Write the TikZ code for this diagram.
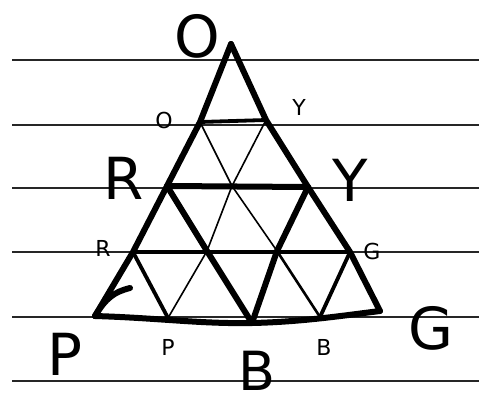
\documentclass[tikz,border=0pt]{standalone}
\usepackage{fontspec}
\setmainfont{DejaVu Sans}
\usetikzlibrary{calc}

\begin{document}
\begin{tikzpicture}[
    x=1pt, y=-1pt,
    rule/.style={line width=1.6pt, black!85},
    edgethick/.style={line width=6pt, line join=round, line cap=round},
    edgemed/.style={line width=3.8pt, line cap=round},
    edgethin/.style={line width=1.6pt, line cap=round},
    biglabel/.style={font=\fontsize{58}{58}\selectfont, inner sep=0pt},
    smalllabel/.style={font=\fontsize{22}{22}\selectfont, inner sep=0pt}
  ]
    \useasboundingbox (0,0) rectangle (479,407);

    % --- Ruled paper ---
    \foreach \ry in {60,125,188,252,317,381}
      \draw[rule] (12,\ry) -- (479,\ry);

    % --- Grid points ---
    \coordinate (o) at (231,44);
    \coordinate (a1) at (200,122);
    \coordinate (a2) at (266,120);
    \coordinate (b1) at (167,186);
    \coordinate (b2) at (232,186);
    \coordinate (b3) at (308,187);
    \coordinate (c1) at (133,252);
    \coordinate (c2) at (207,251);
    \coordinate (c3) at (277,251);
    \coordinate (c4) at (350,252);
    \coordinate (d1) at (95,316);
    \coordinate (d2) at (168,318);
    \coordinate (d3) at (252,323);
    \coordinate (d4) at (320,317);
    \coordinate (d5) at (380,311);

    % --- Outer triangle ---
    \draw[edgethick] (o) -- (a1) -- (b1) -- (c1) -- (d1);
    \draw[edgethick] (o) -- (a2) -- (b3) -- (c4) -- (d5);
    \draw[edgethick] (d1) .. controls (160,318) and (200,324) .. (d3)
                          .. controls (300,322) and (340,316) .. (d5);
    \draw[edgethick] (d1) .. controls (106,298) and (114,292) .. (130,288);

    % --- Rows ---
    \draw[edgemed] (a1) -- (a2);
    \draw[edgethick] (b1) -- (b3);
    \draw[edgemed] (c1) -- (c4);

    % --- Inner triangle ---
    \draw[edgethick] (b1) -- (c2) -- (d3);
    \draw[edgethick] (b3) -- (c3) -- (d3);

    % --- Small edges ---
    \draw[edgethin] (a1) -- (b2);
    \draw[edgethin] (a2) -- (b2);
    \draw[edgethin] (b2) -- (c2);
    \draw[edgethin] (b2) -- (c3);
    \draw[edgemed] (c1) -- (d2);
    \draw[edgethin] (c2) -- (d2);
    \draw[edgemed, line width=2.6pt] (c3) -- (d4);
    \draw[edgemed] (c4) -- (d4);

    % --- Labels ---
    \node[biglabel] (lblO) at (197,36) {O};
    \node[biglabel] (lblR) at (124,178) {R};
    \node[biglabel] (lblY) at (350,180) {Y};
    \node[biglabel] (lblP) at (65,354) {P};
    \node[biglabel, font=\fontsize{54}{54}\selectfont] (lblB) at (257,371) {B};
    \node[biglabel] (lblG) at (431,328) {G};

    \node[smalllabel] (smO) at (164,120) {O};
    \node[smalllabel] (smY) at (299,107) {Y};
    \node[smalllabel] (smR) at (103,248) {R};
    \node[smalllabel] (smG) at (372,251) {G};
    \node[smalllabel] (smP) at (168,347) {P};
    \node[smalllabel] (smB) at (324,347) {B};

  \end{tikzpicture}
\end{document}
